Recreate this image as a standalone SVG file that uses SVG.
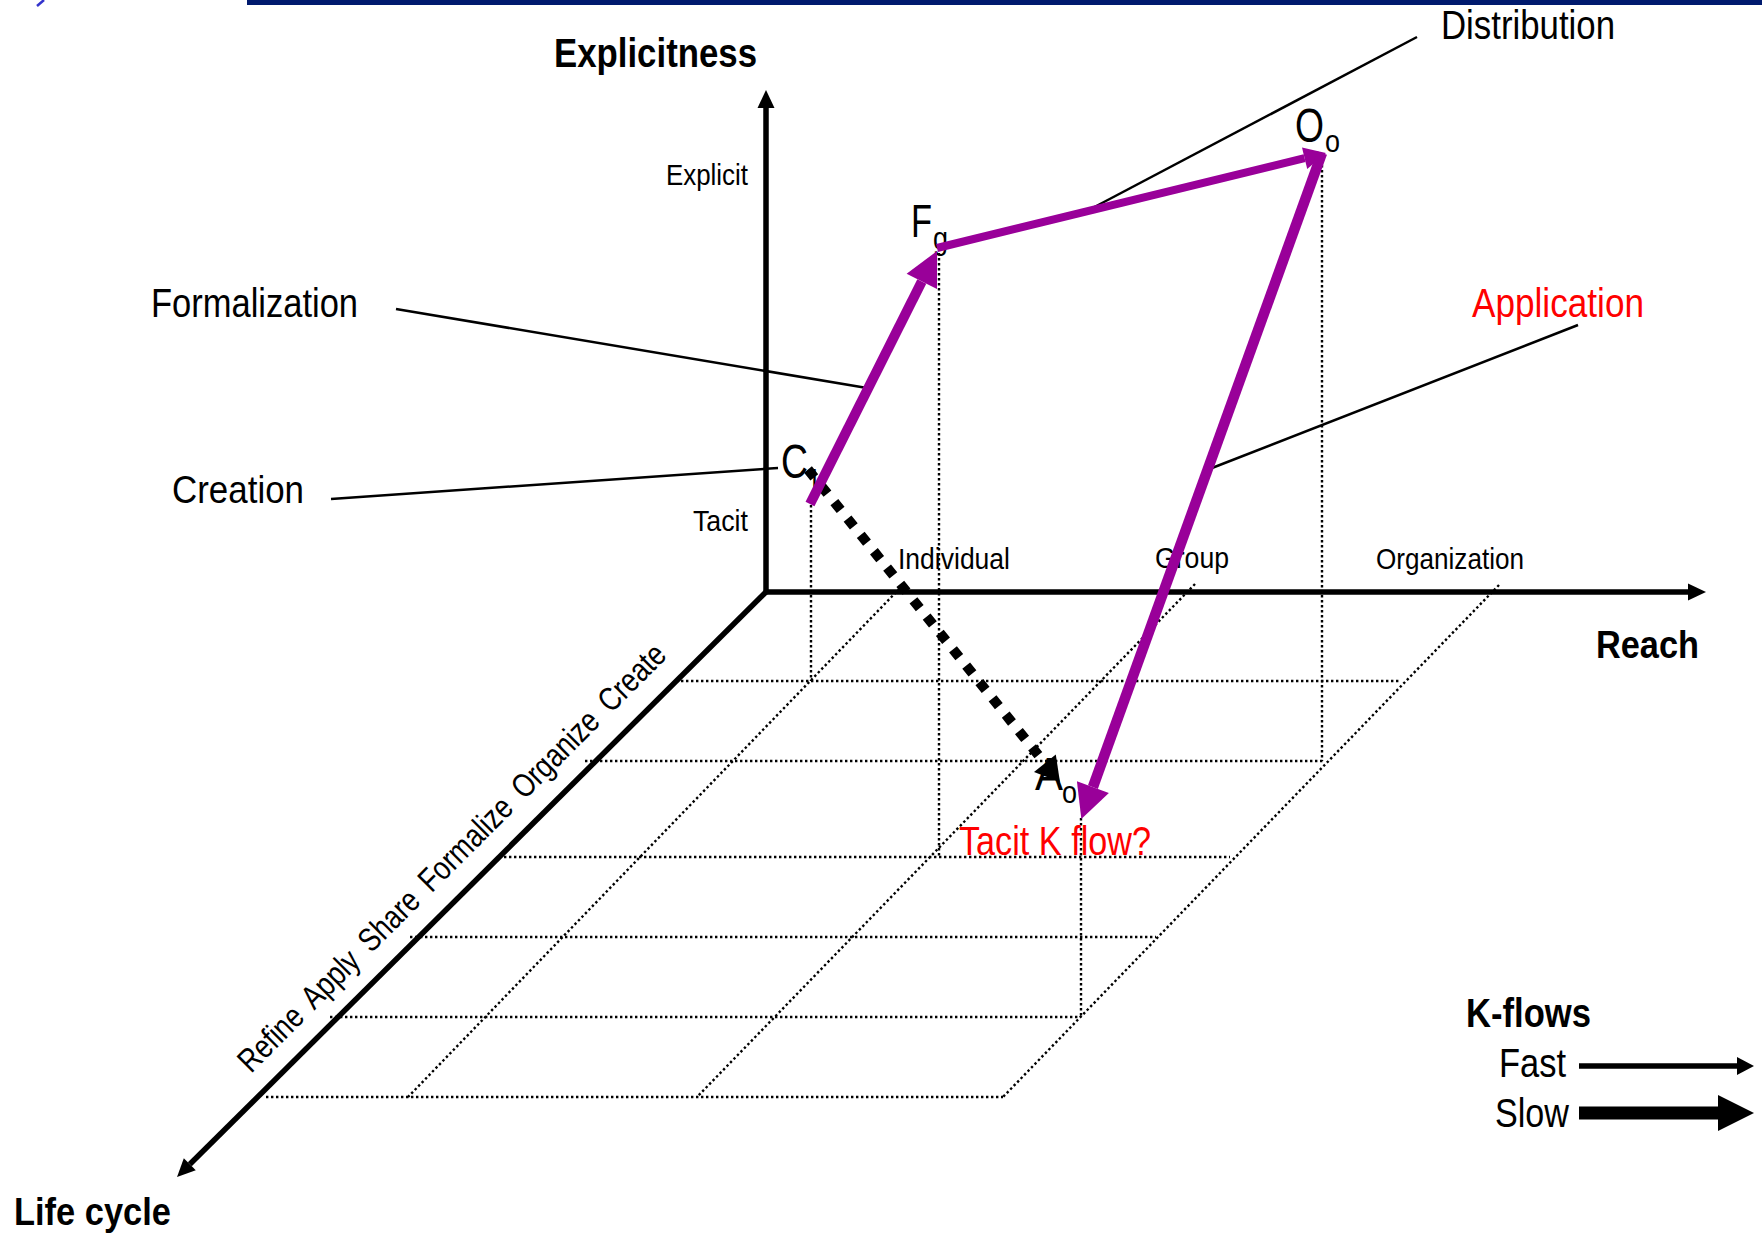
<svg xmlns="http://www.w3.org/2000/svg" width="1762" height="1237" viewBox="0 0 1762 1237">
  <style>
    text { font-family: 'Liberation Sans Narrow', 'Liberation Sans', Arial, sans-serif; fill: #000; }
    .bold { font-weight: bold; }
    .red { fill: #ff0000; }
    .axis { stroke: #000; stroke-width: 5.5; fill: none; }
    .grid { stroke: #000; stroke-width: 2.4; stroke-dasharray: 2.4 2.6; fill: none; }
    .leader { stroke: #000; stroke-width: 2.5; fill: none; }
    .flow { stroke: #990099; fill: none; stroke-linecap: butt; }
    .tacit { stroke: #000; stroke-width: 10; stroke-dasharray: 10 11; fill: none; }
  </style>
  <defs>
    <marker id="axisHead" markerUnits="userSpaceOnUse" markerWidth="20" markerHeight="20" refX="0" refY="0" orient="auto-start-reverse" overflow="visible">
      <path d="M0,-8.5 L18,0 L0,8.5 Z" fill="#000"/>
    </marker>
    <marker id="flowHead" markerUnits="userSpaceOnUse" markerWidth="40" markerHeight="40" refX="0" refY="0" orient="auto" overflow="visible">
      <path d="M0,-17 L34,0 L0,17 Z" fill="#990099"/>
    </marker>
    <marker id="flowHeadSmall" markerUnits="userSpaceOnUse" markerWidth="30" markerHeight="30" refX="0" refY="0" orient="auto" overflow="visible">
      <path d="M0,-11 L22,0 L0,11 Z" fill="#990099"/>
    </marker>
    <marker id="tacitHead" markerUnits="userSpaceOnUse" markerWidth="30" markerHeight="30" refX="0" refY="0" orient="auto" overflow="visible">
      <path d="M0,-14 L24,0 L0,14 Z" fill="#000"/>
    </marker>
  </defs>

  <rect width="1762" height="1237" fill="#fff"/>

  <!-- header rule and corner mark -->
  <g id="header">
    <rect x="247" y="0" width="1515" height="5" fill="#001a6e"/>
    <line x1="37" y1="6" x2="44" y2="0" stroke="#3333cc" stroke-width="2.5"/>
  </g>

  <!-- floor grid of the reach / life-cycle plane -->
  <g id="grid" class="grid">
    <line x1="681" y1="681" x2="1400" y2="681"/>
    <line x1="585" y1="761" x2="1325" y2="761"/>
    <line x1="504" y1="857" x2="1230" y2="857"/>
    <line x1="410" y1="937" x2="1156" y2="937"/>
    <line x1="330" y1="1017" x2="1079" y2="1017"/>
    <line x1="266" y1="1097" x2="1003" y2="1097"/>
    <line x1="903" y1="585" x2="408" y2="1097"/>
    <line x1="1195" y1="584" x2="697" y2="1097"/>
    <line x1="1499" y1="585" x2="1003" y2="1097"/>
    <!-- drop lines from each knowledge state -->
    <line x1="811" y1="505" x2="811" y2="681"/>
    <line x1="939" y1="253" x2="939" y2="857"/>
    <line x1="1322" y1="160" x2="1322" y2="761"/>
    <line x1="1081" y1="818" x2="1081" y2="1017"/>
  </g>

  <!-- axes -->
  <g id="axes">
    <path class="axis" d="M766,108 V592 H1688" marker-start="url(#axisHead)" marker-end="url(#axisHead)"/>
    <path class="axis" d="M767,591 L189.8,1164.3" marker-end="url(#axisHead)"/>
  </g>

  <!-- axis titles and tick labels -->
  <g id="axis-labels">
    <text class="bold" x="554" y="67" font-size="41" textLength="203" lengthAdjust="spacingAndGlyphs">Explicitness</text>
    <text x="666" y="185" font-size="30" textLength="82" lengthAdjust="spacingAndGlyphs">Explicit</text>
    <text x="693" y="531" font-size="30" textLength="55" lengthAdjust="spacingAndGlyphs">Tacit</text>
    <text x="898" y="569" font-size="30" textLength="112" lengthAdjust="spacingAndGlyphs">Individual</text>
    <text x="1155" y="568" font-size="30" textLength="74" lengthAdjust="spacingAndGlyphs">Group</text>
    <text x="1376" y="569" font-size="30" textLength="148" lengthAdjust="spacingAndGlyphs">Organization</text>
    <text class="bold" x="1596" y="658" font-size="39" textLength="103" lengthAdjust="spacingAndGlyphs">Reach</text>
    <text class="bold" x="14" y="1225" font-size="39" textLength="157" lengthAdjust="spacingAndGlyphs">Life cycle</text>
    <text transform="translate(251,1074) rotate(-45)" x="0" y="0" font-size="33" word-spacing="7" textLength="590" lengthAdjust="spacingAndGlyphs">Refine Apply Share Formalize Organize Create</text>
  </g>

  <!-- process labels -->
  <g id="label-formalization">
    <text x="151" y="317" font-size="40" textLength="207" lengthAdjust="spacingAndGlyphs">Formalization</text>
  </g>
  <g id="label-creation">
    <text x="172" y="503" font-size="39" textLength="132" lengthAdjust="spacingAndGlyphs">Creation</text>
  </g>
  <g id="label-distribution">
    <text x="1441" y="39" font-size="40" textLength="174" lengthAdjust="spacingAndGlyphs">Distribution</text>
  </g>
  <g id="label-application">
    <text class="red" x="1472" y="317" font-size="41" textLength="172" lengthAdjust="spacingAndGlyphs">Application</text>
  </g>
  <g id="label-tacit-flow">
    <text class="red" x="959" y="855" font-size="41" textLength="192" lengthAdjust="spacingAndGlyphs">Tacit K flow?</text>
  </g>

  <!-- knowledge states -->
  <g id="node-ci">
    <text x="781" y="478" font-size="48" textLength="27" lengthAdjust="spacingAndGlyphs">C</text>
    <text x="811" y="489" font-size="30" textLength="7" lengthAdjust="spacingAndGlyphs">I</text>
  </g>
  <g id="node-fg">
    <text x="911" y="237" font-size="47" textLength="21" lengthAdjust="spacingAndGlyphs">F</text>
    <text x="933" y="249" font-size="32" textLength="15" lengthAdjust="spacingAndGlyphs">g</text>
  </g>
  <g id="node-oo">
    <text x="1295" y="142" font-size="48" textLength="29" lengthAdjust="spacingAndGlyphs">O</text>
    <text x="1325" y="152" font-size="32" textLength="15" lengthAdjust="spacingAndGlyphs">o</text>
  </g>
  <g id="node-ao">
    <text x="1035" y="790" font-size="47" textLength="28" lengthAdjust="spacingAndGlyphs">A</text>
    <text x="1062" y="803" font-size="32" textLength="15" lengthAdjust="spacingAndGlyphs">o</text>
  </g>

  <!-- knowledge flows and label leaders -->
  <g id="connectors">
    <line class="leader" x1="396" y1="309" x2="867" y2="388"/>
    <line class="leader" x1="331" y1="499" x2="778" y2="468"/>
    <line class="leader" x1="1085" y1="212" x2="1417" y2="37"/>
    <line class="leader" x1="1212" y1="468" x2="1578" y2="325"/>

    <path class="tacit" d="M808,469.5 L1044.9,763.3" marker-end="url(#tacitHead)"/>
    <path class="flow" stroke-width="10" d="M810,504 L921.8,281.4" marker-end="url(#flowHead)"/>
    <path class="flow" stroke-width="8" d="M937,248 L1304.6,158.2" marker-end="url(#flowHeadSmall)"/>
    <path class="flow" stroke-width="10.5" d="M1322,153 L1092.9,787.1" marker-end="url(#flowHead)"/>
  </g>

  <!-- legend -->
  <g id="legend">
    <text class="bold" x="1466" y="1027" font-size="40" textLength="125" lengthAdjust="spacingAndGlyphs">K-flows</text>
    <text x="1499" y="1077" font-size="40" textLength="67" lengthAdjust="spacingAndGlyphs">Fast</text>
    <text x="1495" y="1127" font-size="40" textLength="74" lengthAdjust="spacingAndGlyphs">Slow</text>
    <line x1="1579" y1="1066" x2="1737" y2="1066" stroke="#000" stroke-width="5.5"/>
    <path d="M1737,1057 L1754,1066 L1737,1075 Z" fill="#000"/>
    <line x1="1579" y1="1113" x2="1719" y2="1113" stroke="#000" stroke-width="13"/>
    <path d="M1718,1095 L1754,1113 L1718,1131 Z" fill="#000"/>
  </g>
</svg>
